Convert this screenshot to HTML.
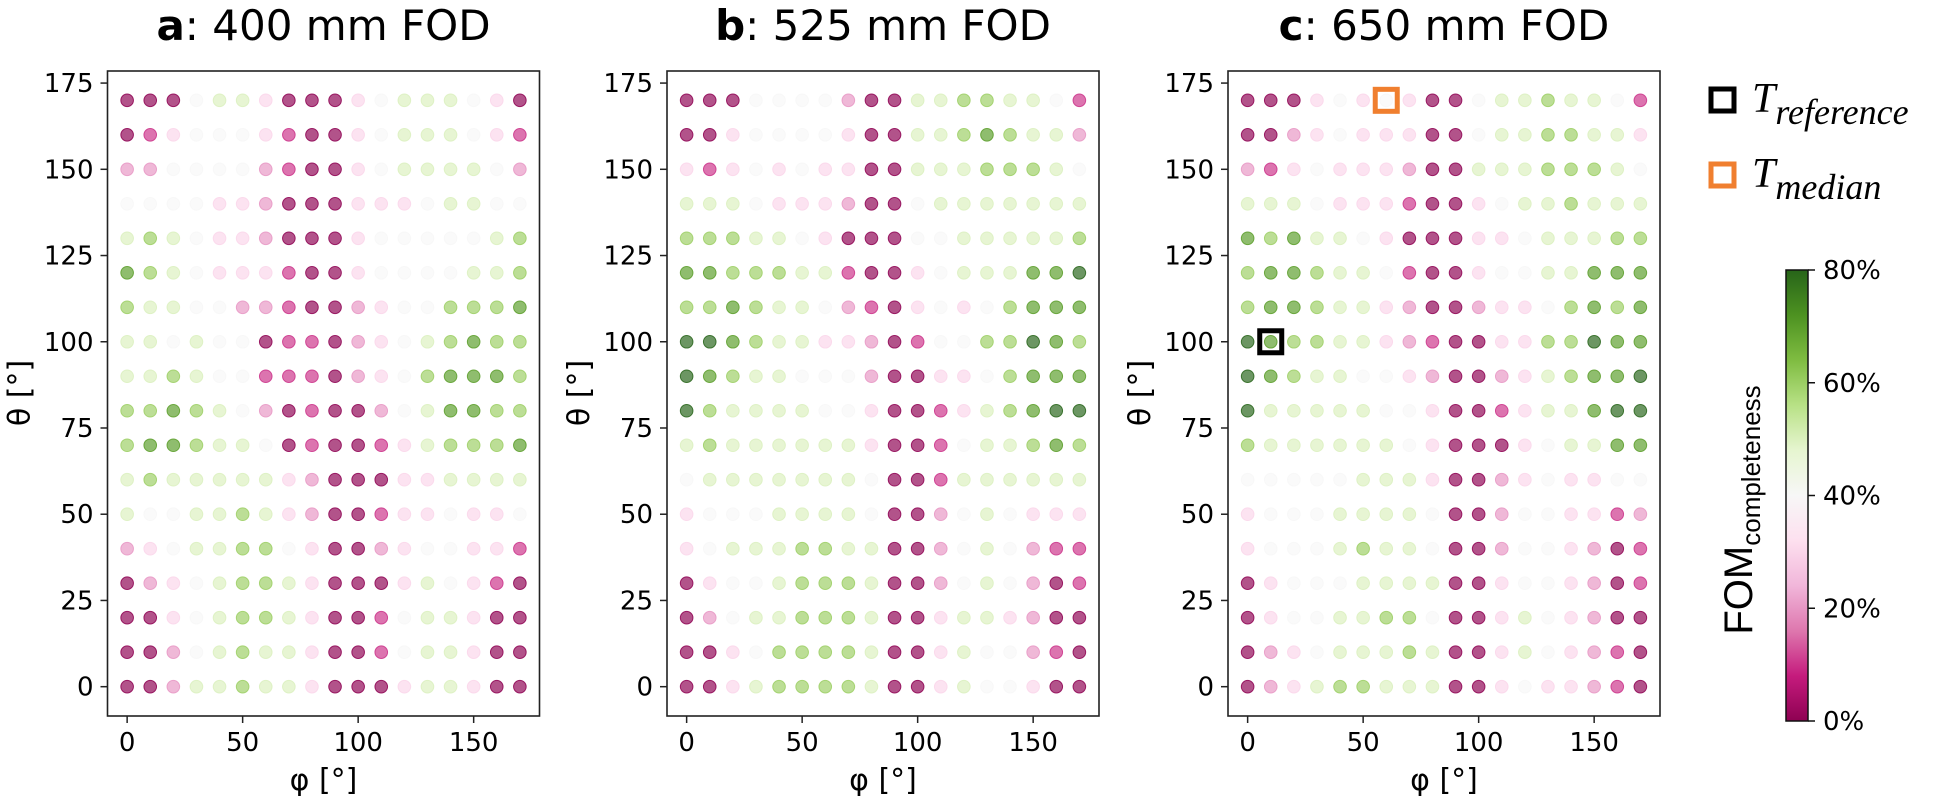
<!DOCTYPE html>
<html><head><meta charset="utf-8"><style>
html,body{margin:0;padding:0;background:#fff;}
svg{display:block;font-family:"DejaVu Sans","Liberation Sans",sans-serif;}
</style></head><body>
<svg id="fig" width="1949" height="796" viewBox="0 0 1949 796" xmlns="http://www.w3.org/2000/svg">
<defs>
<linearGradient id="piyg" x1="0" y1="1" x2="0" y2="0">
<stop offset="0" stop-color="#8e0152"/><stop offset="0.1" stop-color="#c51b7d"/><stop offset="0.2" stop-color="#de77ae"/><stop offset="0.3" stop-color="#f1b6da"/><stop offset="0.4" stop-color="#fde0ef"/><stop offset="0.5" stop-color="#f7f7f7"/><stop offset="0.6" stop-color="#e6f5d0"/><stop offset="0.7" stop-color="#b8e186"/><stop offset="0.8" stop-color="#7fbc41"/><stop offset="0.9" stop-color="#4d9221"/><stop offset="1" stop-color="#276419"/>
</linearGradient>
</defs>
<g id="panels"></g>
<g>
<rect x="1711" y="89" width="23" height="22" fill="none" stroke="#000" stroke-width="5"/>
<text x="1752" y="112" font-family="'Liberation Serif',serif" font-style="italic" font-size="42">T<tspan font-size="36" dy="12">reference</tspan></text>
<rect x="1711" y="164" width="23" height="22" fill="none" stroke="#f07f2f" stroke-width="5"/>
<text x="1752" y="187" font-family="'Liberation Serif',serif" font-style="italic" font-size="42">T<tspan font-size="36" dy="12">median</tspan></text>
</g>
<g>
<rect x="1786" y="270" width="22" height="451" fill="url(#piyg)" stroke="#111" stroke-width="1.5"/>
<g id="cbticks"></g>
<text transform="translate(1752,510) rotate(-90)" text-anchor="middle" font-family="'Liberation Sans',sans-serif" font-size="40">FOM<tspan font-size="26" dy="8">completeness</tspan></text>
</g>
</svg>
<script>
const phiValues = [0,10,20,30,40,50,60,70,80,90,100,110,120,130,140,150,160,170];
const thetaValues = [170,160,150,140,130,120,110,100,90,80,70,60,50,40,30,20,10,0];
const xTicks = [0,50,100,150];
const yTicks = [0,25,50,75,100,125,150,175];
const cbTicks = [0,20,40,60,80];
const panelTitles = ["a","b","c"];
const panelSubtitles = [": 400 mm FOD",": 525 mm FOD",": 650 mm FOD"];
// FOM (tens of percent), rows theta 170 -> 0, columns phi 0 -> 170
const fomA = [
"000455300034555430","013444310034555431","224444210034555542","444433200033345544",
"565433200034444456","765433310034444556","655442210023446667","554544011023456766",
"556544111023467776","667654201002457766","677655401001356667","565555532000335555",
"544556532001334334","234556643002344331","023456653000354310","003456653001455300",
"002456553001455300","002556553000355300"];
const fomB = [
"000444420055665541","003444430055676552","313434330055566654","555433320045555555",
"666554300044555556","776665510034555778","667655421034346777","887655332014466876",
"876554442003346777","865555443001356788","565555553001455676","455555554001555555",
"344455554002454333","345556655002454211","034456665002454201","024556665003553200",
"003466665003544210","003566665003544300"];
const fomC = [
"000343430045565541","002343330045566553","213433320055566654","555433310034556555",
"767554300033455566","677655410034455777","677655320023346767","876655321003366877",
"876554432002356778","855555443001355788","655555543000345577","444445553002343344",
"344455554002443312","344456554002443201","034445555003443201","034455664003543200",
"023455565003543210","023566555003433210"];
const panelData = [fomA, fomB, fomC];
const markRef = {panel:2, phi:10, theta:100};
const markMed = {panel:2, phi:60, theta:170};

const NS = "http://www.w3.org/2000/svg";
const stops = ["#8e0152","#c51b7d","#de77ae","#f1b6da","#fde0ef","#f7f7f7","#e6f5d0","#b8e186","#7fbc41","#4d9221","#276419"];
function hex(c){return [parseInt(c.substr(1,2),16),parseInt(c.substr(3,2),16),parseInt(c.substr(5,2),16)];}
function cmap(v){
  let t = Math.max(0,Math.min(1,v/80))*10; let i=Math.min(9,Math.floor(t)); let f=t-i;
  let a=hex(stops[i]), b=hex(stops[i+1]);
  return "rgb("+a.map((x,k)=>Math.round(x+(b[k]-x)*f)).join(",")+")";
}
function mk(tag, attrs, parent){const e=document.createElementNS(NS,tag);for(const k in attrs)e.setAttribute(k,attrs[k]);parent.appendChild(e);return e;}
const frameLefts=[107.5,667,1228];
const FW=432, FT=71, FB=716, XMIN=-8.5, XMAX=178.5, YMIN=-8.5, YMAX=178.5;
const root=document.getElementById("panels");
panelData.forEach((data,p)=>{
  const L=frameLefts[p];
  const sx=v=>L+(v-XMIN)/(XMAX-XMIN)*FW;
  const sy=v=>FB-(v-YMIN)/(YMAX-YMIN)*(FB-FT);
  const g=mk("g",{},root);
  
  
  const title=mk("text",{x:L+FW/2,y:40,"text-anchor":"middle","font-size":"42"},g);
  
  
  const tb=mk("tspan",{"font-weight":"bold"},title); tb.textContent=panelTitles[p];
  const tr=mk("tspan",{},title); tr.textContent=panelSubtitles[p];
  thetaValues.forEach((th,r)=>{
    phiValues.forEach((ph,c)=>{
      const v=parseInt(data[r][c])*10;
      const col=cmap(v);
      const d=mk("circle",{cx:sx(ph),cy:sy(th),r:6.3,fill:col,"fill-opacity":0.68,stroke:col,"stroke-opacity":0.85,"stroke-width":1},g);
      
      
    });
  });
  const fr=mk("rect",{x:L,y:FT,width:FW,height:FB-FT,fill:"none",stroke:"#222","stroke-width":1.6},g);
  
  
  xTicks.forEach(t=>{
    mk("line",{x1:sx(t),x2:sx(t),y1:FB,y2:FB+7,stroke:"#222","stroke-width":1.5},g);
    const tx=mk("text",{x:sx(t),y:751,"text-anchor":"middle","font-size":"26"},g);
    
    
    tx.textContent=t;
  });
  yTicks.forEach(t=>{
    mk("line",{x1:L-7,x2:L,y1:sy(t),y2:sy(t),stroke:"#222","stroke-width":1.5},g);
    const ty=mk("text",{x:L-14,y:sy(t)+9,"text-anchor":"end","font-size":"26"},g);
    
    
    ty.textContent=t;
  });
  const xl=mk("text",{x:L+FW/2,y:790,"text-anchor":"middle","font-size":"30"},g);
  
  
  xl.textContent="φ [°]";
  const yl=mk("text",{transform:"translate("+(L-78)+",393) rotate(-90)","text-anchor":"middle","font-size":"30"},g);
  
  
  yl.textContent="θ [°]";
  [[markRef,"#000","reference-marker"],[markMed,"#f07f2f","median-marker"]].forEach(([m,c,n])=>{
    if(m.panel!==p) return;
    const s=mk("rect",{x:sx(m.phi)-11,y:sy(m.theta)-11,width:22,height:22,fill:"none",stroke:c,"stroke-width":5},g);
    
    
  });
});
const cbg=document.getElementById("cbticks");
cbTicks.forEach(t=>{
  const y=721-(t/80)*451;
  mk("line",{x1:1808,x2:1815,y1:y,y2:y,stroke:"#111","stroke-width":1.5},cbg);
  const l=mk("text",{x:1823,y:y+9,"font-size":"26"},cbg);
  
  
  l.textContent=t+"%";
});
</script>
</body></html>
